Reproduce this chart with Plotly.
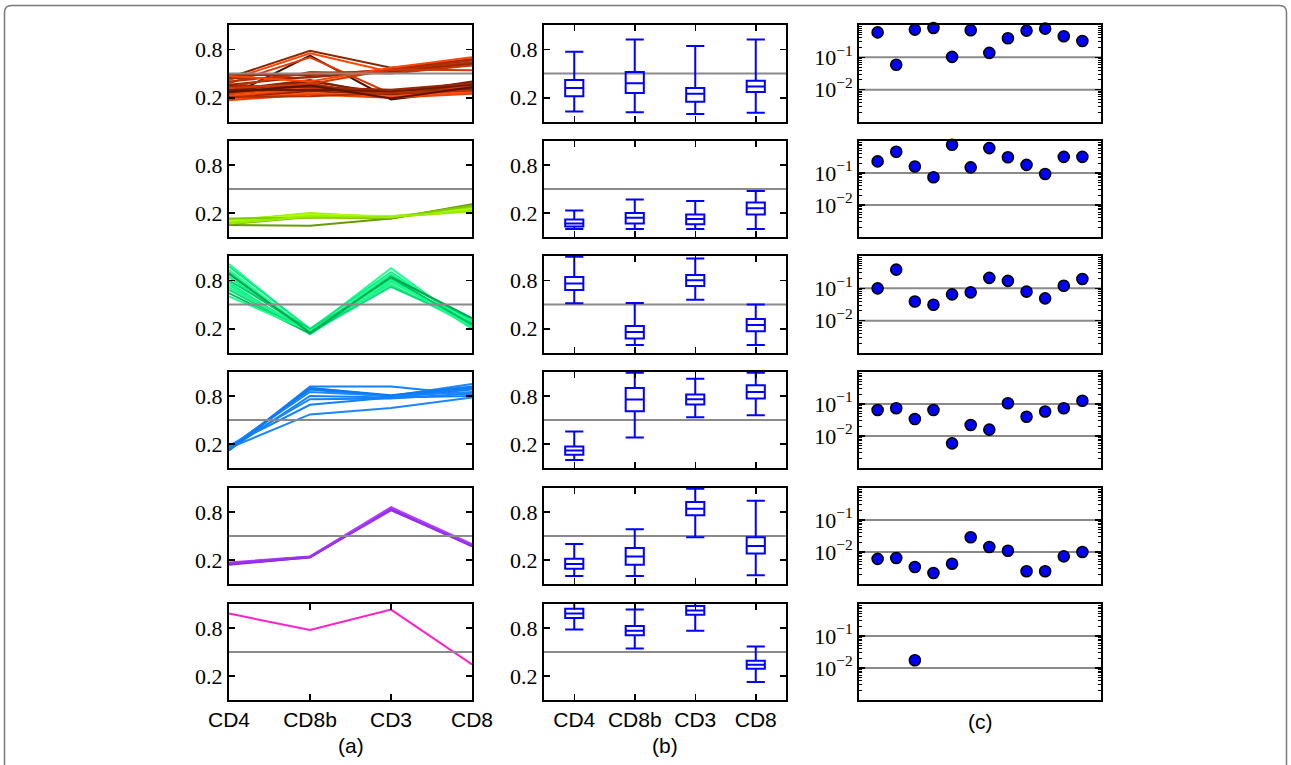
import plotly.graph_objects as go

W, H = 1291, 765

CATEGORIES = ["CD4", "CD8b", "CD3", "CD8"]
PANEL_LETTERS = ["(a)", "(b)", "(c)"]
THRESH_AB = [0.5]
THRESH_C = [0.1, 0.01]

# ---------------- (a) cluster profiles: one list per line [CD4, CD8b, CD3, CD8]
A_ROW1 = [
    [0.45, 0.78, 0.57, 0.67], [0.42, 0.75, 0.52, 0.62], [0.22, 0.72, 0.18, 0.30],
    [0.38, 0.70, 0.25, 0.35], [0.48, 0.48, 0.55, 0.68], [0.44, 0.45, 0.54, 0.66],
    [0.40, 0.50, 0.53, 0.64], [0.36, 0.46, 0.52, 0.62], [0.33, 0.52, 0.50, 0.60],
    [0.30, 0.42, 0.22, 0.38], [0.28, 0.40, 0.25, 0.40], [0.26, 0.38, 0.20, 0.34],
    [0.25, 0.36, 0.24, 0.32], [0.24, 0.34, 0.21, 0.30], [0.22, 0.32, 0.23, 0.28],
    [0.20, 0.30, 0.27, 0.26], [0.19, 0.28, 0.24, 0.31], [0.18, 0.26, 0.22, 0.27],
    [0.17, 0.24, 0.20, 0.25], [0.21, 0.22, 0.26, 0.29], [0.29, 0.30, 0.28, 0.36],
    [0.35, 0.33, 0.30, 0.38], [0.47, 0.40, 0.57, 0.70], [0.32, 0.37, 0.55, 0.54],
    [0.27, 0.35, 0.19, 0.33],
]
A_ROW1_COLORS = [
    "#8b2500", "#ff4500", "#4a1200", "#e03a00", "#a02800", "#a83000",
    "#b83000", "#9a2600", "#c03500", "#8b2500", "#7a2000", "#c83800",
    "#a02800", "#e64000", "#ff4a00", "#d03800", "#8b2500", "#ff5010",
    "#ee4400", "#b03000", "#6b1a00", "#9a2600", "#ff4500", "#d03800",
    "#5a1500",
]

A_ROW2 = [
    [0.12, 0.18, 0.15, 0.26], [0.10, 0.20, 0.14, 0.28], [0.08, 0.17, 0.16, 0.24],
    [0.06, 0.15, 0.13, 0.30], [0.11, 0.19, 0.15, 0.22], [0.09, 0.16, 0.14, 0.27],
    [0.05, 0.04, 0.13, 0.31], [0.10, 0.18, 0.16, 0.25], [0.13, 0.14, 0.14, 0.29],
    [0.07, 0.16, 0.15, 0.23],
]
A_ROW2_COLORS = [
    "#aaff00", "#99ee00", "#88dd00", "#77bb00", "#a0f000",
    "#90e000", "#6a9a00", "#b0ff10", "#80c800", "#99ee00",
]

A_ROW3 = [
    [1.00, 0.18, 0.95, 0.22], [0.97, 0.20, 0.90, 0.25], [0.93, 0.16, 0.88, 0.28],
    [0.90, 0.14, 0.85, 0.20], [0.87, 0.17, 0.82, 0.24], [0.84, 0.15, 0.86, 0.30],
    [0.80, 0.19, 0.80, 0.22], [0.77, 0.13, 0.78, 0.26], [0.74, 0.16, 0.84, 0.21],
    [0.71, 0.18, 0.75, 0.23], [0.68, 0.15, 0.72, 0.27], [0.64, 0.14, 0.83, 0.25],
    [0.60, 0.17, 0.80, 0.22], [0.88, 0.15, 0.84, 0.33],
]
A_ROW3_COLORS = [
    "#20ff90", "#00f080", "#30ff98", "#00e878", "#40f890", "#00f888",
    "#00d068", "#18f088", "#00ff88", "#28f088", "#00e078", "#00c060",
    "#18ff90", "#00a850",
]

A_ROW4 = [
    [0.12, 0.92, 0.92, 0.82], [0.14, 0.90, 0.80, 0.95], [0.15, 0.88, 0.79, 0.90],
    [0.16, 0.85, 0.80, 0.85], [0.13, 0.80, 0.78, 0.88], [0.17, 0.76, 0.77, 0.83],
    [0.18, 0.69, 0.78, 0.80], [0.15, 0.57, 0.65, 0.78], [0.12, 0.90, 0.81, 0.92],
]
A_ROW4_COLORS = ["#1482ff", "#1a86ff", "#0f7cf5", "#1e88ff", "#1480f8",
                 "#1a84ff", "#1280ff", "#1a86ff", "#0e7af0"]

A_ROW5 = [
    [0.15, 0.23, 0.84, 0.38], [0.16, 0.24, 0.85, 0.39], [0.14, 0.235, 0.83, 0.37],
    [0.17, 0.245, 0.86, 0.40], [0.155, 0.24, 0.82, 0.38],
]
A_ROW5_COLORS = ["#9b30ff", "#a020f0", "#8a2be2", "#b040ff", "#9932e8"]

A_ROW6 = [[0.98, 0.775, 1.03, 0.345]]
A_ROW6_COLORS = ["#ff1fc8"]

A_ROWS = [A_ROW1, A_ROW2, A_ROW3, A_ROW4, A_ROW5, A_ROW6]
A_COLORS = [A_ROW1_COLORS, A_ROW2_COLORS, A_ROW3_COLORS, A_ROW4_COLORS,
            A_ROW5_COLORS, A_ROW6_COLORS]

# ---------------- (b) box statistics per row, per category [CD4, CD8b, CD3, CD8]
B_LOWER = [
    [0.03, 0.02, 0.00, 0.015],
    [0.00, 0.00, 0.00, 0.00],
    [0.515, 0.00, 0.56, 0.00],
    [0.00, 0.28, 0.535, 0.56],
    [0.00, 0.00, 0.485, 0.01],
    [0.78, 0.545, 0.765, 0.125],
]
B_Q1 = [
    [0.22, 0.26, 0.15, 0.27],
    [0.03, 0.07, 0.06, 0.18],
    [0.68, 0.08, 0.73, 0.17],
    [0.065, 0.61, 0.695, 0.77],
    [0.09, 0.14, 0.76, 0.28],
    [0.925, 0.71, 0.965, 0.29],
]
B_MEDIAN = [
    [0.32, 0.38, 0.25, 0.34],
    [0.07, 0.14, 0.125, 0.26],
    [0.76, 0.16, 0.80, 0.245],
    [0.12, 0.755, 0.76, 0.85],
    [0.15, 0.245, 0.84, 0.375],
    [0.98, 0.765, 1.02, 0.34],
]
B_Q3 = [
    [0.42, 0.52, 0.32, 0.41],
    [0.12, 0.20, 0.18, 0.33],
    [0.84, 0.235, 0.865, 0.32],
    [0.17, 0.90, 0.82, 0.935],
    [0.215, 0.35, 0.925, 0.485],
    [1.04, 0.825, 1.075, 0.39],
]
B_UPPER = [
    [0.77, 0.92, 0.84, 0.92],
    [0.23, 0.37, 0.35, 0.475],
    [1.09, 0.52, 1.07, 0.50],
    [0.355, 1.09, 1.015, 1.09],
    [0.40, 0.585, 1.09, 0.94],
    [1.12, 1.03, 1.15, 0.57],
]

# ---------------- (c) per-row values (log scale), 12 samples
C_X = [1, 2, 3, 4, 5, 6, 7, 8, 9, 10, 11, 12]
C_ROWS = [
    [0.59, 0.059, 0.72, 0.81, 0.103, 0.69, 0.137, 0.39, 0.67, 0.77, 0.45, 0.32],
    [0.23, 0.46, 0.16, 0.074, 0.76, 0.15, 0.60, 0.31, 0.18, 0.093, 0.32, 0.32],
    [0.10, 0.38, 0.039, 0.031, 0.065, 0.075, 0.21, 0.17, 0.079, 0.049, 0.12, 0.195],
    [0.065, 0.074, 0.034, 0.065, 0.0059, 0.022, 0.0158, 0.105, 0.040, 0.058, 0.074, 0.126],
    [0.0061, 0.0065, 0.0034, 0.0022, 0.0043, 0.029, 0.0143, 0.011, 0.0025, 0.0025, 0.0073, 0.010],
    [None, None, 0.0174, None, None, None, None, None, None, None, None, None],
]

# ---------------- geometry (pixels)
COL_X = [(229, 472), (544, 786), (859, 1101)]
ROW_Y = [(25, 122), (141, 237), (256, 353), (372, 468), (488, 584), (604, 700)]

SERIF = "Liberation Serif"
SANS = "Liberation Sans"

fig = go.Figure()
layout = dict(
    template="none",
    width=W, height=H, margin=dict(l=0, r=0, t=0, b=0, pad=0, autoexpand=False),
    paper_bgcolor="white", plot_bgcolor="white", showlegend=False,
)
shapes = []
annotations = []


def names(idx):
    s = "" if idx == 1 else str(idx)
    return "xaxis" + s, "yaxis" + s, "x" + s, "y" + s


base_axis = dict(showline=True, linecolor="black", linewidth=2, showgrid=False,
                 zeroline=False, fixedrange=True, tickcolor="black", tickwidth=1.5,
                 automargin=False)

for r in range(6):
    for c in range(3):
        idx = r * 3 + c + 1
        xa, ya, xr, yr = names(idx)
        x0, x1 = COL_X[c]
        y0, y1 = ROW_Y[r]
        xdom = [x0 / W, x1 / W]
        ydom = [1 - y1 / H, 1 - y0 / H]
        bottom = r == 5

        if c == 0:
            xaxis = dict(base_axis, domain=xdom, anchor=yr, range=[0, 3],
                         tickmode="array", tickvals=[0, 1, 2, 3], ticktext=CATEGORIES,
                         ticks="inside" if bottom else "", ticklen=6,
                         mirror="ticks" if bottom else True,
                         showticklabels=bottom,
                         tickfont=dict(family=SANS, size=21, color="black"))
        elif c == 1:
            xaxis = dict(base_axis, domain=xdom, anchor=yr, range=[-0.5, 3.5],
                         tickmode="array", tickvals=[0, 1, 2, 3], ticktext=CATEGORIES,
                         ticks="inside", ticklen=6, mirror="ticks",
                         showticklabels=bottom,
                         tickfont=dict(family=SANS, size=21, color="black"))
        else:
            xaxis = dict(base_axis, domain=xdom, anchor=yr, range=[0, 13],
                         ticks="", showticklabels=False, mirror=True)

        if c < 2:
            yaxis = dict(base_axis, domain=ydom, anchor=xr, range=[-0.1, 1.1],
                         tickmode="array", tickvals=[0.2, 0.8], ticktext=["0.2", "0.8"],
                         ticks="inside", ticklen=6, mirror="ticks",
                         tickfont=dict(family=SERIF, size=22, color="black"))
        else:
            yaxis = dict(base_axis, domain=ydom, anchor=xr, type="log", range=[-3, 0],
                         tickmode="array", tickvals=[0.1, 0.01],
                         ticktext=["10<sup>\u22121</sup>", "10<sup>\u22122</sup>"],
                         ticks="inside", ticklen=6, mirror="ticks",
                         tickfont=dict(family=SERIF, size=22, color="black"),
                         minor=dict(ticks="inside", ticklen=3, tickwidth=1,
                                    tickcolor="black", dtick="D1", showgrid=False))
        layout[xa] = xaxis
        layout[ya] = yaxis

        # reference lines
        if c < 2:
            for t in THRESH_AB:
                shapes.append(dict(type="line", xref=xr + " domain", yref=yr,
                                   x0=0, x1=1, y0=t, y1=t,
                                   line=dict(color="#8a8a8a", width=2),
                                   layer="above" if c == 0 else "below"))
        else:
            for t in THRESH_C:
                shapes.append(dict(type="line", xref=xr + " domain", yref=yr,
                                   x0=0, x1=1, y0=t, y1=t,
                                   line=dict(color="#8a8a8a", width=2),
                                   layer="below"))

        # traces
        if c == 0:
            for vals, col in zip(A_ROWS[r], A_COLORS[r]):
                fig.add_trace(go.Scatter(x=[0, 1, 2, 3], y=vals, mode="lines",
                                         line=dict(color=col, width=2),
                                         xaxis=xr, yaxis=yr, hoverinfo="skip"))
        elif c == 1:
            fig.add_trace(go.Box(
                x=[0, 1, 2, 3], q1=B_Q1[r], median=B_MEDIAN[r], q3=B_Q3[r],
                lowerfence=B_LOWER[r], upperfence=B_UPPER[r],
                width=0.3, whiskerwidth=1,
                line=dict(color="#0000ff", width=2),
                fillcolor="rgba(0,0,0,0)", boxpoints=False,
                xaxis=xr, yaxis=yr, hoverinfo="skip"))
        else:
            fig.add_trace(go.Scatter(
                x=C_X, y=C_ROWS[r], mode="markers",
                marker=dict(color="#0000ff", size=11,
                            line=dict(color="black", width=1.6)),
                xaxis=xr, yaxis=yr, hoverinfo="skip", cliponaxis=False))

# panel letters
LETTER_POS = [(350.5, 745), (665, 745), (980, 721)]
for letter, (px, py) in zip(PANEL_LETTERS, LETTER_POS):
    annotations.append(dict(text=letter, x=px / W, y=1 - py / H, xref="paper", yref="paper",
                            showarrow=False, xanchor="center", yanchor="middle",
                            font=dict(family=SANS, size=21, color="black")))

# outer rounded frame
bx0, bx1, by0, rad = 4.5, 1286.5, 5.5, 7
def P(x, y):
    return f"{x / W:.6f},{1 - y / H:.6f}"
path = (f"M {P(bx0, 780)} L {P(bx0, by0 + rad)} Q {P(bx0, by0)} {P(bx0 + rad, by0)} "
        f"L {P(bx1 - rad, by0)} Q {P(bx1, by0)} {P(bx1, by0 + rad)} L {P(bx1, 780)}")
shapes.append(dict(type="path", xref="paper", yref="paper", path=path,
                   line=dict(color="#7a7a7a", width=1.5), layer="below"))

layout["shapes"] = shapes
layout["annotations"] = annotations
fig.update_layout(**layout)
fig.write_html("out.html", config={"displayModeBar": False, "staticPlot": True},
               post_script="document.body.style.margin='0';document.body.style.overflow='hidden';")
